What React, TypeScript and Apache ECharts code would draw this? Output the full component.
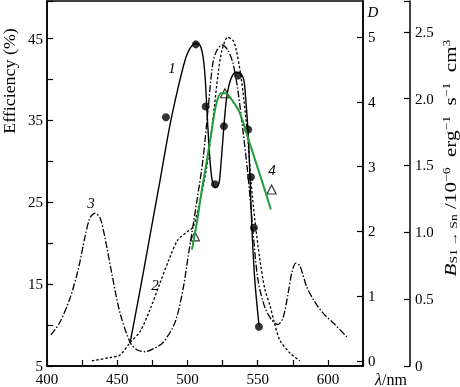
import React, { useEffect, useRef } from "react";
import * as echarts from "echarts";

// Curve 1: efficiency (%), solid line
const c1Lambda = [459.1, 466.2, 473.3, 480.4, 487.5, 493.2, 498.2, 501.8, 506.0, 508.9, 511.0, 512.5, 513.9, 515.3, 516.7, 518.1, 520.3, 522.4, 523.8, 526.0, 528.1, 531.0, 534.5, 538.0, 540.2, 541.6, 543.1, 544.5, 545.9, 548.0, 551.0];
const c1Eff = [7.8, 14.2, 20.9, 27.6, 34.4, 38.9, 42.3, 43.8, 44.4, 44.2, 42.9, 40.5, 36.2, 31.9, 28.9, 27.3, 26.8, 27.3, 29.5, 34.4, 38.0, 40.1, 40.9, 40.7, 39.9, 37.4, 33.8, 28.3, 21.8, 15.4, 9.9];
// Curve 1 measured points
const p1Lambda = [484.7, 506.0, 513.0, 519.6, 526.0, 536.0, 543.2, 545.2, 547.3, 550.9];
const p1Eff = [35.4, 44.3, 36.7, 27.2, 34.3, 40.5, 33.9, 28.1, 21.9, 9.8];

// Curve 2: optical density D, dotted
const c2Lambda = [432, 444.8, 452, 459, 466.2, 473.3, 480.4, 487.5, 493.2, 499.6, 504, 509, 513.9, 518.1, 521.7, 524.6, 528.8, 532.4, 534.5, 538, 540.2, 543.1, 545.2, 548, 551.6, 555.2, 558.7, 562, 565.8, 573, 580];
const c2D = [0.0, 0.05, 0.09, 0.28, 0.45, 0.79, 1.2, 1.6, 1.87, 1.99, 2.07, 2.48, 3.02, 3.72, 4.41, 4.8, 5.0, 4.95, 4.83, 4.41, 4.03, 3.41, 2.79, 2.18, 1.56, 1.1, 0.86, 0.58, 0.32, 0.12, 0.0];

// Curve 3: optical density D, dash-dot
const c3Lambda = [402.8, 409.3, 416.4, 422.1, 427, 430.6, 434.2, 437.7, 441.3, 446.3, 452, 459.1, 464, 469.8, 476.9, 482.6, 491.1, 496.8, 500.4, 503.2, 506.8, 511, 514.6, 518.1, 521, 524.6, 528.8, 532.4, 535.9, 539.5, 543.1, 546.6, 550.2, 555.2, 560.1, 564.4, 568, 571.5, 574.4, 577.2, 580, 585, 590.7, 596.4, 605, 613.5];
const c3D = [0.4, 0.6, 0.97, 1.4, 1.91, 2.21, 2.28, 2.21, 1.9, 1.33, 0.74, 0.29, 0.17, 0.14, 0.2, 0.28, 0.59, 1.1, 1.6, 1.98, 2.48, 3.1, 3.87, 4.6, 4.8, 4.88, 4.8, 4.6, 4.18, 3.56, 2.87, 2.02, 1.25, 0.82, 0.63, 0.56, 0.66, 1.02, 1.37, 1.51, 1.47, 1.14, 0.91, 0.74, 0.56, 0.37];

// Curve 4: B coefficient (10^-6 erg^-1 s^-1 cm^3), green
const c4Lambda = [503.2, 506.8, 510.3, 513.9, 517.4, 520.3, 523.8, 527.4, 531.7, 537.4, 544.5, 551.6, 555.9, 559.4];
const c4B = [0.87, 1.08, 1.32, 1.54, 1.77, 1.95, 2.04, 2.04, 1.99, 1.89, 1.66, 1.43, 1.29, 1.17];
const p4Lambda = [505.3, 526.7, 559.9];
const p4B = [0.97, 2.04, 1.32];

const dTicks = [0, 1, 2, 3, 4, 5];

const zip = (a: number[], b: number[]) => a.map((v, i) => [v, b[i]]);

const FONT = "Liberation Serif";

export default function App() {
  const ref = useRef<HTMLDivElement>(null);
  useEffect(() => {
    document.body.style.margin = "0";
    const chart = echarts.init(ref.current!, null, { renderer: "svg" });
    const axisLine = { show: true, onZero: false, lineStyle: { color: "#000", width: 1.5 } };
    const tick = { show: true, inside: true, length: 6, lineStyle: { color: "#000", width: 1.2 } };
    const label = { color: "#000", fontSize: 15, fontFamily: FONT };
    chart.setOption({
      animation: false,
      textStyle: { fontFamily: FONT },
      grid: {
        left: 47,
        top: 1,
        right: 97,
        bottom: 21,
        containLabel: false,
        outerBoundsMode: "none",
        show: true,
        borderColor: "#000",
        borderWidth: 1.5,
      },
      xAxis: {
        type: "value",
        min: 400,
        max: 625,
        interval: 25,
        axisLine,
        axisTick: tick,
        splitLine: { show: false },
        axisLabel: { ...label, margin: 6, lineHeight: 14, formatter: (v: number) => (v % 50 === 0 ? String(v) : "") },
      },
      yAxis: [
        {
          type: "value",
          position: "left",
          min: 5,
          max: 49.6,
          interval: 5,
          axisLine,
          axisTick: tick,
          splitLine: { show: false },
          axisLabel: { ...label, margin: 4, lineHeight: 12, formatter: (v: number) => (v % 10 === 5 ? String(v) : "") },
        },
        {
          type: "value",
          position: "right",
          min: -0.08,
          max: 5.56,
          axisLine,
          axisTick: { ...tick, customValues: dTicks },
          splitLine: { show: false },
          axisLabel: { ...label, margin: 5, customValues: dTicks },
        },
        {
          type: "value",
          position: "right",
          offset: 47,
          min: 0,
          max: 2.73,
          interval: 0.5,
          axisLine,
          axisTick: tick,
          splitLine: { show: false },
          axisLabel: {
            ...label,
            margin: 5,
            formatter: (v: number) =>
              Math.abs(v * 2 - Math.round(v * 2)) < 1e-6 ? (v === 0 ? "0" : v.toFixed(1)) : "",
          },
        },
      ],
      series: [
        {
          type: "line",
          yAxisIndex: 1,
          data: zip(c3Lambda, c3D),
          smooth: 0.3,
          symbol: "none",
          lineStyle: { color: "#000", width: 1.3, type: [7, 2, 1.5, 2] },
        },
        {
          type: "line",
          yAxisIndex: 1,
          data: zip(c2Lambda, c2D),
          smooth: 0.3,
          symbol: "none",
          lineStyle: { color: "#000", width: 1.3, type: [2.5, 2] },
        },
        {
          type: "line",
          yAxisIndex: 0,
          data: zip(c1Lambda, c1Eff),
          smooth: 0.3,
          symbol: "none",
          lineStyle: { color: "#000", width: 1.4 },
        },
        {
          type: "scatter",
          yAxisIndex: 0,
          data: zip(p1Lambda, p1Eff),
          symbol: "circle",
          symbolSize: 8,
          itemStyle: { color: "#000" },
        },
        {
          type: "line",
          yAxisIndex: 2,
          data: zip(c4Lambda, c4B),
          smooth: 0.3,
          symbol: "none",
          lineStyle: { color: "#239a3b", width: 2 },
        },
        {
          type: "scatter",
          yAxisIndex: 2,
          data: zip(p4Lambda, p4B),
          symbol: "triangle",
          symbolSize: 9,
          itemStyle: { color: "#fff", borderColor: "#000", borderWidth: 1.2 },
        },
      ],
      graphic: [
        { type: "text", x: 172, y: 68, style: { text: "1", font: `italic 15px ${FONT}`, fill: "#000", align: "center", verticalAlign: "middle" } },
        { type: "text", x: 155, y: 285, style: { text: "2", font: `italic 15px ${FONT}`, fill: "#000", align: "center", verticalAlign: "middle" } },
        { type: "text", x: 91, y: 203, style: { text: "3", font: `italic 15px ${FONT}`, fill: "#000", align: "center", verticalAlign: "middle" } },
        { type: "text", x: 272, y: 170, style: { text: "4", font: `italic 15px ${FONT}`, fill: "#000", align: "center", verticalAlign: "middle" } },
        { type: "text", x: 373, y: 12, style: { text: "D", font: `italic 15px ${FONT}`, fill: "#000", align: "center", verticalAlign: "middle" } },
        {
          type: "text",
          x: 391,
          y: 379,
          style: {
            text: "{i|λ}{n|/nm}",
            align: "center",
            verticalAlign: "middle",
            rich: {
              i: { font: `italic 16px ${FONT}`, fill: "#000" },
              n: { font: `16px ${FONT}`, fill: "#000" },
            },
          },
        },
        {
          type: "text",
          x: 10,
          y: 81,
          rotation: Math.PI / 2,
          scaleX: 1.12,
          style: { text: "Efficiency (%)", font: `16px ${FONT}`, fill: "#000", align: "center", verticalAlign: "middle" },
        },
        {
          type: "text",
          x: 450,
          y: 158,
          rotation: Math.PI / 2,
          scaleX: 1.24,
          style: {
            text: "{b|B}{sub|S1 → Sn}{n| /10}{sup|−6}{n|  erg}{sup|−1}{n|  s}{sup|−1}{n|  cm}{sup|3}",
            align: "center",
            verticalAlign: "middle",
            rich: {
              b: { font: `italic 17px ${FONT}`, fill: "#000", lineHeight: 18, verticalAlign: "middle" },
              n: { font: `17px ${FONT}`, fill: "#000", lineHeight: 18, verticalAlign: "middle" },
              sub: { font: `11px ${FONT}`, fill: "#000", lineHeight: 18, verticalAlign: "bottom" },
              sup: { font: `11px ${FONT}`, fill: "#000", lineHeight: 18, verticalAlign: "top" },
            },
          },
        },
      ],
    });
    return () => chart.dispose();
  }, []);
  return <div ref={ref} style={{ position: "fixed", left: 0, top: 0, width: 460, height: 387 }} />;
}
